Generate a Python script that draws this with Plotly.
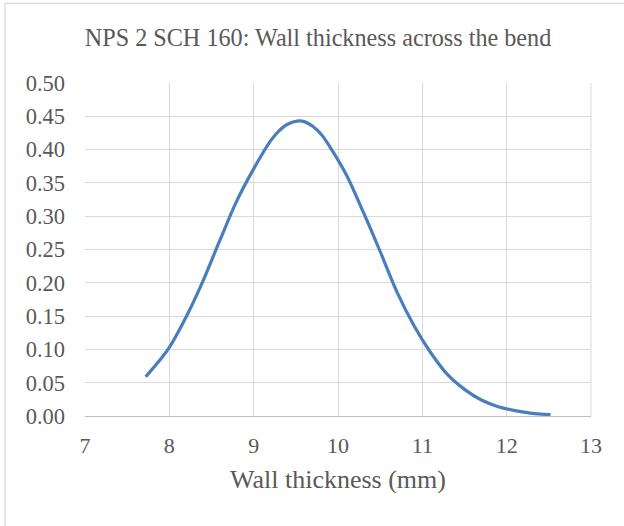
import plotly.graph_objects as go

# Values
thickness_mm = [7.72, 7.9, 8.0, 8.2, 8.4, 8.6, 8.8, 9.0, 9.2, 9.3, 9.4, 9.53, 9.6, 9.7, 9.8, 9.9,
                10.1, 10.3, 10.5, 10.7, 10.9, 11.1, 11.3, 11.5, 11.7, 11.9, 12.1, 12.3, 12.52]
density = [0.059, 0.086, 0.103, 0.149, 0.203, 0.264, 0.323, 0.371, 0.413, 0.428, 0.438, 0.443, 0.442,
           0.435, 0.423, 0.405,
           0.362, 0.306, 0.247, 0.186, 0.136, 0.095, 0.062, 0.040, 0.024, 0.014, 0.008, 0.004, 0.002]

x_ticks = [7, 8, 9, 10, 11, 12, 13]
y_ticks = [0.00, 0.05, 0.10, 0.15, 0.20, 0.25, 0.30, 0.35, 0.40, 0.45, 0.50]

title_text = "NPS 2 SCH 160: Wall thickness across the bend"
x_title = "Wall thickness (mm)"

FONT = "Liberation Serif, Times New Roman, serif"
TXT = "#595959"

fig = go.Figure()
fig.add_trace(go.Scatter(
    x=thickness_mm, y=density, mode="lines",
    line=dict(color="#4A7EBB", width=3.2, shape="spline", smoothing=1.0),
    showlegend=False, hoverinfo="skip",
))

fig.update_layout(
    width=624, height=526,
    margin=dict(l=85, r=33, t=82.5, b=109.6),
    paper_bgcolor="white", plot_bgcolor="white",
    font=dict(family=FONT, color=TXT),
    title=dict(text=title_text, x=(85 + 551) / 2 / 624, xanchor="center",
               y=1 - 38 / 526, yanchor="middle",
               font=dict(family=FONT, size=24.2, color=TXT)),
    xaxis=dict(range=[7, 13], tickvals=x_ticks, ticktext=[str(v) for v in x_ticks],
               showgrid=True, gridcolor="#D9D9D9", gridwidth=1,
               showline=True, linecolor="#BFBFBF", linewidth=1, mirror=False,
               zeroline=False, ticks="", ticklen=0, ticklabelstandoff=10,
               tickfont=dict(family=FONT, size=22, color=TXT),
               title=dict(text=x_title, font=dict(family=FONT, size=26, color=TXT), standoff=12)),
    yaxis=dict(range=[0, 0.5], tickvals=y_ticks, ticktext=[f"{v:.2f}" for v in y_ticks],
               showgrid=True, gridcolor="#D9D9D9", gridwidth=1,
               showline=False, zeroline=False, ticks="", ticklen=0, ticklabelstandoff=19,
               tickfont=dict(family=FONT, size=22.5, color=TXT)),
    shapes=[
        dict(type="rect", xref="paper", yref="paper",
             x0=(5 - 85) / 506, x1=1.3, y0=-0.6, y1=(416.4 - 2.5) / 334,
             line=dict(color="#D9D9D9", width=1.2), fillcolor="rgba(0,0,0,0)", layer="below"),
        dict(type="line", xref="paper", yref="paper", x0=1, x1=1, y0=0, y1=1,
             line=dict(color="#D9D9D9", width=1)),
    ],
)

fig.write_html("out.html", config={"displayModeBar": False},
               post_script="document.body.style.margin='0';document.body.style.overflow='hidden';")
